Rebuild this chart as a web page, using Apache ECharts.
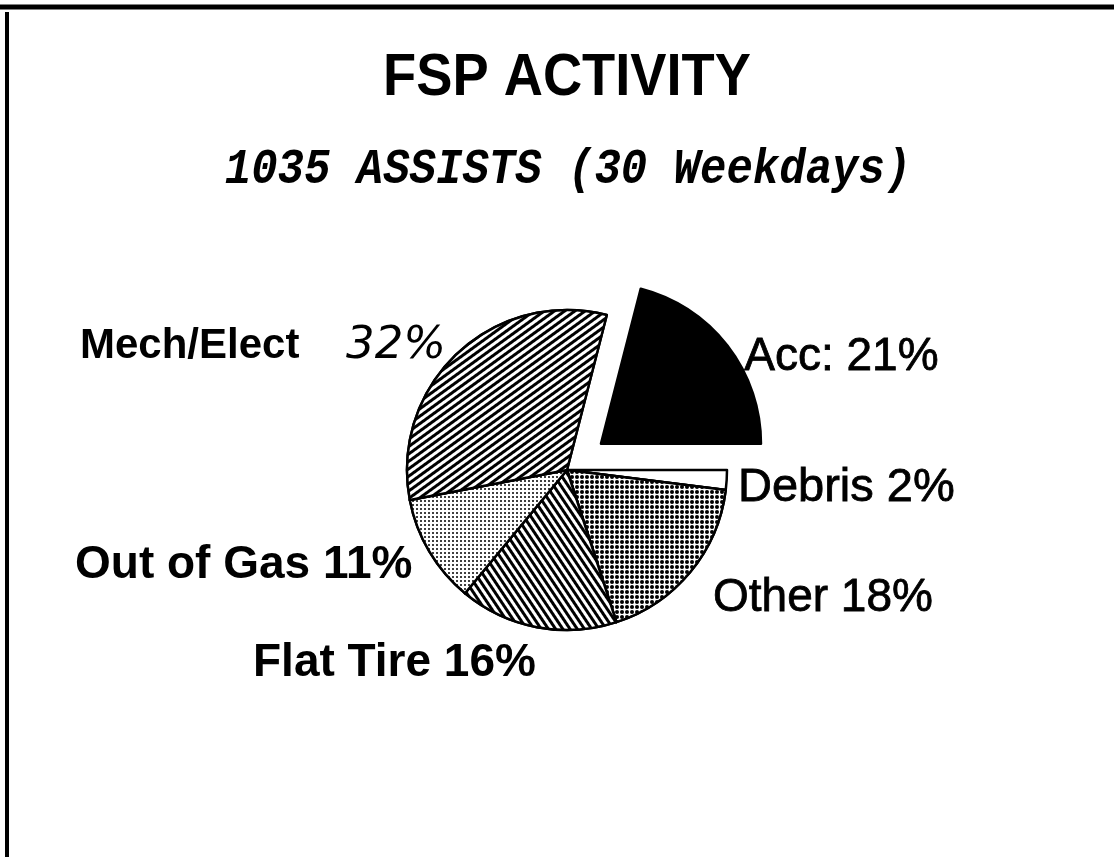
<!DOCTYPE html>
<html>
<head>
<meta charset="utf-8">
<title>FSP Activity</title>
<script src="https://cdn.jsdelivr.net/npm/echarts@6/dist/echarts.min.js"></script>
<style>
  html, body { margin: 0; padding: 0; background: #fff; }
  #chartWrap { width: 1114px; height: 857px; }
</style>
</head>
<body>
<div id="chartWrap"></div>
<script>
// data (shares of 1035 assists)
const categories = ['Acc', 'Debris', 'Other', 'Flat Tire', 'Out of Gas', 'Mech/Elect']
const shares = [21, 2, 18, 16, 11, 32]

const titleText = 'FSP ACTIVITY'
const subText = '1035 ASSISTS (30 Weekdays)'

// where each label sits (left x, middle y), same order as categories
// the exploded Acc slice keeps its own label, only nudged
const labelPos = [null, [738, 488], [713, 598], [253, 663], [75, 565], [80, 346]]
const accNudge = [-30, 21]
const labelSize = [46, 47, 46, 46, 46, 42]
const boldLabels = ['Flat Tire', 'Out of Gas', 'Mech/Elect']

const lines = (rot, on, off) => ({
  symbol: 'rect', symbolSize: 1, color: '#000', backgroundColor: '#fff',
  dashArrayX: [1, 0], dashArrayY: [on, off], rotation: rot
})
const dots = (size, gap) => ({
  symbol: 'circle', symbolSize: 1, color: '#000', backgroundColor: '#fff',
  dashArrayX: [size, gap], dashArrayY: [size, gap]
})

const fills = {
  'Acc': { color: '#000' },
  'Debris': { color: '#fff' },
  'Other': { color: '#fff', decal: dots(3.6, 0.9) },
  'Flat Tire': { color: '#fff', decal: lines(Math.PI / 3.2, 2.2, 2.4) },
  'Out of Gas': { color: '#fff', decal: dots(2, 1.1) },
  'Mech/Elect': { color: '#fff', decal: lines(-Math.PI / 5, 2.4, 2.8) }
}

const chart = echarts.init(document.getElementById('chartWrap'))

const seriesData = categories.map((name, i) => {
  const bold = boldLabels.indexOf(name) >= 0
  const label = bold
    ? { fontWeight: 'bold', fontSize: labelSize[i] }
    : { fontWeight: 'normal', fontSize: labelSize[i], textBorderColor: '#000', textBorderWidth: 0.8 }
  if (name === 'Acc') label.offset = accNudge
  return {
    name: name,
    value: shares[i],
    selected: name === 'Acc',
    itemStyle: fills[name],
    select: { itemStyle: fills[name], label: label },
    label: label
  }
})

chart.setOption({
  backgroundColor: '#fff',
  animation: false,
  graphic: [
    { type: 'line', shape: { x1: 0, y1: 7, x2: 1114, y2: 7 }, style: { stroke: '#000', lineWidth: 5 } },
    { type: 'line', shape: { x1: 7, y1: 12, x2: 7, y2: 857 }, style: { stroke: '#000', lineWidth: 4 } },
    {
      type: 'text', x: 567, y: 79, scaleX: 0.92,
      style: {
        text: titleText, fill: '#000', align: 'center', verticalAlign: 'middle',
        font: 'bold 59px "Liberation Sans"'
      }
    },
    {
      type: 'text', x: 568, y: 170, scaleY: 1.15,
      style: {
        text: subText, fill: '#000', align: 'center', verticalAlign: 'middle',
        font: 'italic bold 44px "Liberation Mono"'
      }
    }
  ],
  series: [{
    type: 'pie',
    center: [567, 470],
    radius: 160,
    startAngle: 75.6,
    clockwise: true,
    selectedMode: 'single',
    selectedOffset: 43,
    avoidLabelOverlap: false,
    emphasis: { disabled: true },
    itemStyle: { borderColor: '#000', borderWidth: 2.5 },
    label: {
      show: true,
      position: 'outside',
      color: '#000',
      fontFamily: 'Liberation Sans',
      formatter: p => {
        if (p.name === 'Mech/Elect') return p.name + '    {pct|' + p.value + '%}'
        return (p.name === 'Acc' ? 'Acc:' : p.name) + ' ' + p.value + '%'
      },
      rich: {
        pct: { fontFamily: 'DejaVu Sans', fontStyle: 'italic', fontWeight: 'normal', fontSize: 45, color: '#000' }
      }
    },
    labelLine: { show: false },
    labelLayout: params => {
      const p = labelPos[params.dataIndex]
      if (!p) return {}
      return { x: p[0], y: p[1], align: 'left', verticalAlign: 'middle' }
    },
    data: seriesData
  }]
})
</script>
</body>
</html>
